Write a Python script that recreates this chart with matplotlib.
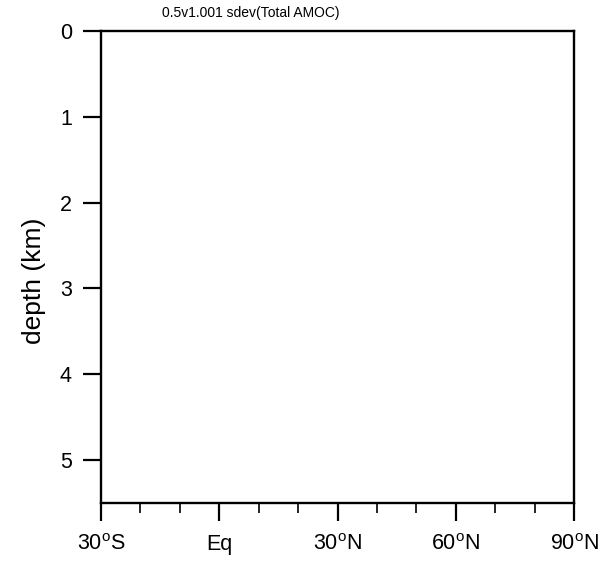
import matplotlib
matplotlib.use("Agg")
import matplotlib.pyplot as plt
from matplotlib.ticker import MultipleLocator

plt.rcParams['font.family'] = ['Liberation Sans', 'DejaVu Sans']

title = "0.5v1.001 sdev(Total AMOC)"
lat_ticks = [-30, 0, 30, 60, 90]
lat_labels = [r"30$^\mathregular{o}$S", "Eq", r"30$^\mathregular{o}$N",
              r"60$^\mathregular{o}$N", r"90$^\mathregular{o}$N"]
depth_ticks = [0, 1, 2, 3, 4, 5]
depth_labels = ["0", "1", "2", "3", "4", "5"]
lat_range = (-30, 90)
depth_range = (0, 5.5)

W, H = 605, 562
fig = plt.figure(figsize=(W / 100, H / 100), dpi=100)
ax = fig.add_axes([101 / W, 1 - 503 / H, (574 - 101) / W, (503 - 31) / H])

ax.set_xlim(*lat_range)
ax.set_ylim(depth_range[1], depth_range[0])
ax.set_xticks(lat_ticks)
ax.set_xticklabels(lat_labels)
ax.set_yticks(depth_ticks)
ax.set_yticklabels(depth_labels)
ax.xaxis.set_minor_locator(MultipleLocator(10))

for s in ax.spines.values():
    s.set_linewidth(1.7)
ax.tick_params(axis='both', which='major', direction='out', length=13, width=1.6,
               labelsize=15.5)
ax.tick_params(axis='y', pad=8)
ax.tick_params(axis='x', pad=9)
ax.tick_params(axis='x', which='minor', direction='out', length=7, width=1.2)
ax.tick_params(top=False, right=False)

ax.set_ylabel("depth (km)", fontsize=19)
ax.yaxis.set_label_coords(34 / W, 0.5, transform=fig.transFigure)
ax.yaxis.label.set_va('center')
fig.text(251 / W, 1 - 13 / H, title, fontsize=10, ha='center', va='center')

fig.savefig("out.png", dpi=100)
